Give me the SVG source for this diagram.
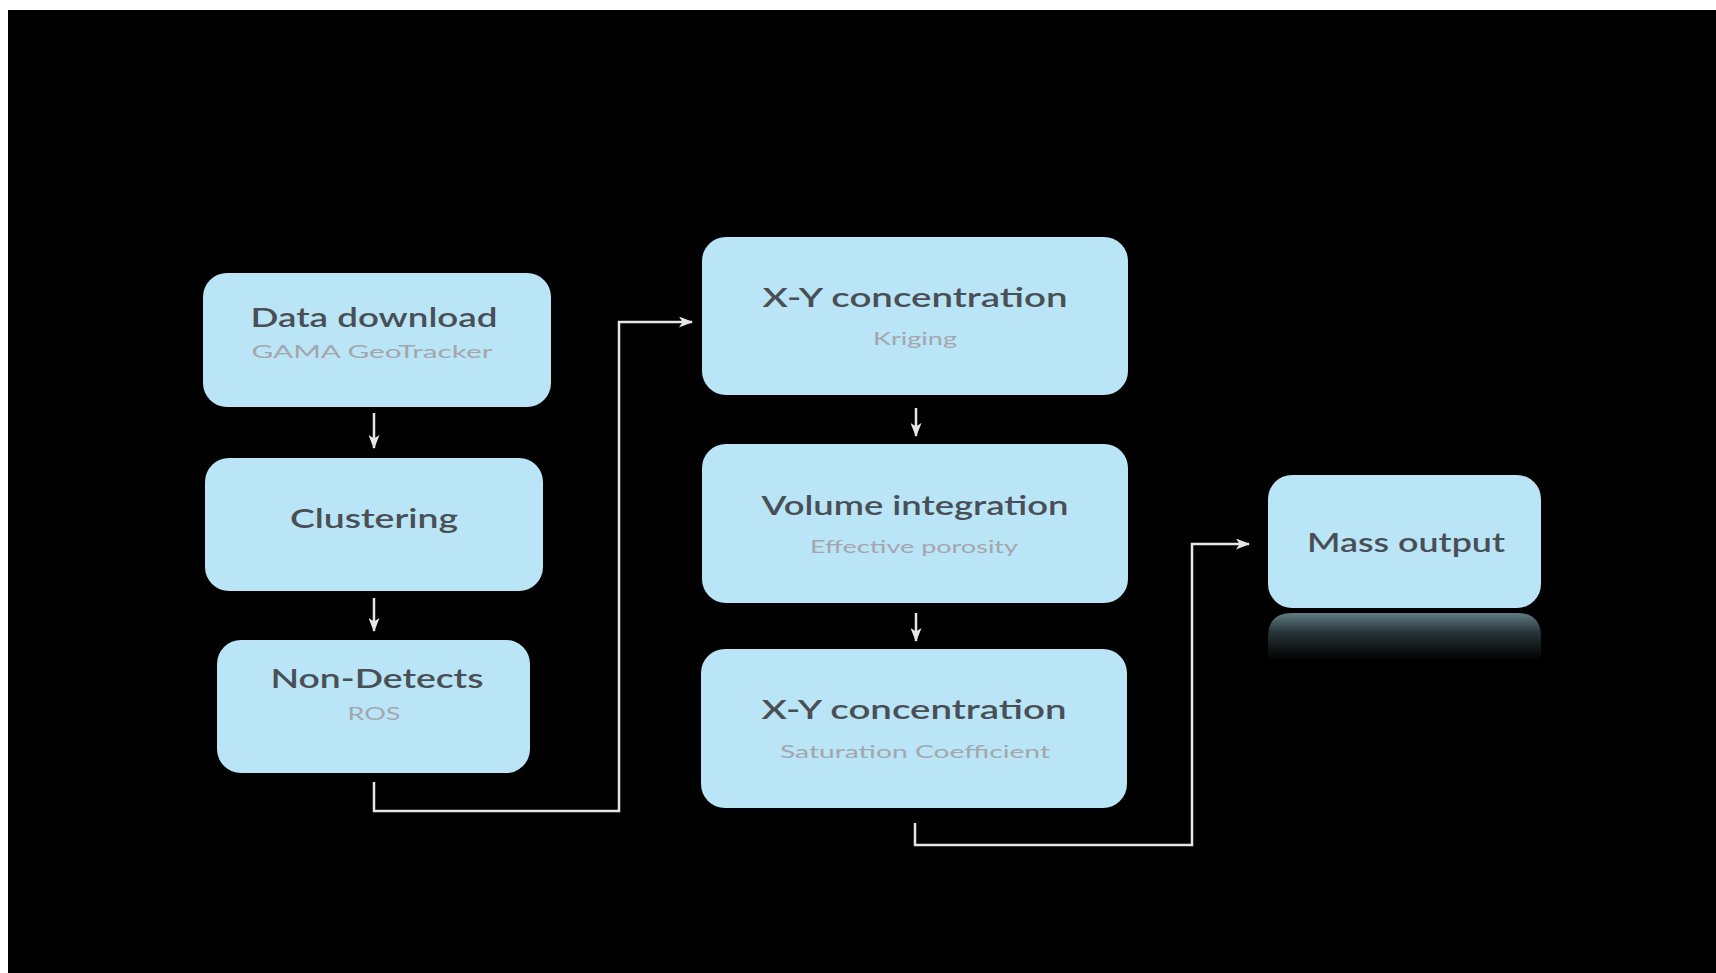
<svg xmlns="http://www.w3.org/2000/svg" width="1716" height="973" viewBox="0 0 1716 973">
  <defs>
    <style>
      .box { fill: #b9e5f6; }
      .title { font-family: Lato, "Open Sans", "Liberation Sans", sans-serif; font-size: 27px; font-weight: 600; fill: #4a4f56; text-anchor: middle; }
      .sub { font-family: Lato, "Open Sans", "Liberation Sans", sans-serif; font-size: 17px; font-weight: 400; fill: #a4a5ad; text-anchor: middle; }
      .conn { fill: none; stroke: #e6e6e6; stroke-width: 2.5; marker-end: url(#arrow); }
    </style>
    <marker id="arrow" viewBox="0 0 14 11" refX="13" refY="5.5" markerWidth="14" markerHeight="11" markerUnits="userSpaceOnUse" orient="auto">
      <path d="M0,0 L14,5.5 L0,11 L3.5,5.5 Z" fill="#e6e6e6"/>
    </marker>
    <linearGradient id="refl" x1="0" y1="0" x2="0" y2="1">
      <stop offset="0" stop-color="#6c8a92"/>
      <stop offset="0.4" stop-color="#2d3b40"/>
      <stop offset="1" stop-color="#000000"/>
    </linearGradient>
  </defs>

  <rect x="0" y="0" width="1716" height="973" fill="#ffffff"/>
  <rect x="8" y="10" width="1708" height="963" fill="#000000"/>

  <g id="connectors">
    <path class="conn" d="M374,413 L374,448"/>
    <path class="conn" d="M374,598 L374,631"/>
    <path class="conn" d="M374,782 L374,811 L619,811 L619,322 L692,322"/>
    <path class="conn" d="M916,408 L916,436"/>
    <path class="conn" d="M916,613 L916,641"/>
    <path class="conn" d="M915,823 L915,845 L1192,845 L1192,544 L1249,544"/>
  </g>

  <g id="node-data-download">
    <rect class="box" x="203" y="273" width="348" height="134" rx="24"/>
    <text class="title" x="374" y="327" textLength="247" lengthAdjust="spacingAndGlyphs">Data download</text>
    <text class="sub" x="372" y="358" textLength="241" lengthAdjust="spacingAndGlyphs">GAMA GeoTracker</text>
  </g>

  <g id="node-clustering">
    <rect class="box" x="205" y="458" width="338" height="133" rx="24"/>
    <text class="title" x="374" y="528" textLength="168" lengthAdjust="spacingAndGlyphs">Clustering</text>
  </g>

  <g id="node-non-detects">
    <rect class="box" x="217" y="640" width="313" height="133" rx="24"/>
    <text class="title" x="377" y="688" textLength="213" lengthAdjust="spacingAndGlyphs">Non-Detects</text>
    <text class="sub" x="374" y="720" textLength="53" lengthAdjust="spacingAndGlyphs">ROS</text>
  </g>

  <g id="node-xy-kriging">
    <rect class="box" x="702" y="237" width="426" height="158" rx="24"/>
    <text class="title" x="915" y="307" textLength="305" lengthAdjust="spacingAndGlyphs">X-Y concentration</text>
    <text class="sub" x="915" y="345" textLength="84" lengthAdjust="spacingAndGlyphs">Kriging</text>
  </g>

  <g id="node-volume">
    <rect class="box" x="702" y="444" width="426" height="159" rx="24"/>
    <text class="title" x="915" y="515" textLength="307" lengthAdjust="spacingAndGlyphs">Volume integration</text>
    <text class="sub" x="914" y="553" textLength="208" lengthAdjust="spacingAndGlyphs">Effective porosity</text>
  </g>

  <g id="node-xy-saturation">
    <rect class="box" x="701" y="649" width="426" height="159" rx="24"/>
    <text class="title" x="914" y="719" textLength="305" lengthAdjust="spacingAndGlyphs">X-Y concentration</text>
    <text class="sub" x="915" y="758" textLength="270" lengthAdjust="spacingAndGlyphs">Saturation Coefficient</text>
  </g>

  <g id="node-mass-output">
    <path d="M1268,637 Q1268,613 1292,613 L1517,613 Q1541,613 1541,637 L1541,660 L1268,660 Z" fill="url(#refl)" opacity="0.9"/>
    <rect class="box" x="1268" y="475" width="273" height="133" rx="24"/>
    <text class="title" x="1406" y="552" textLength="198" lengthAdjust="spacingAndGlyphs">Mass output</text>
  </g>
</svg>
